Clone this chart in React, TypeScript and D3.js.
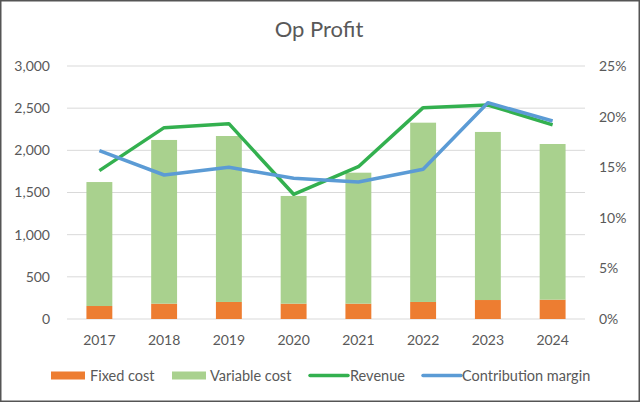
import React from "react";
import * as d3 from "d3";

const years = ["2017", "2018", "2019", "2020", "2021", "2022", "2023", "2024"];
const fixedCost = [154, 182, 202, 182, 182, 202, 225, 229];
const totalCost = [1624, 2123, 2170, 1459, 1735, 2328, 2218, 2075];
const revenue = [1759, 2269, 2316, 1479, 1806, 2506, 2538, 2301];
const contributionMargin = [0.1663, 0.1423, 0.1499, 0.139, 0.1354, 0.1479, 0.2137, 0.1957];
const leftTicks = [0, 500, 1000, 1500, 2000, 2500, 3000];
const rightTicks = [0, 0.05, 0.1, 0.15, 0.2, 0.25];

const W = 640;
const H = 402;
const M = { left: 67, right: 585, top: 66, bottom: 319 };
const FONT = "Lato, 'Open Sans', sans-serif";
const TXT = "#595959";

export default function App() {
  const x = d3.scaleBand<string>().domain(years).range([M.left, M.right]).paddingInner(0.6).paddingOuter(0.3);
  const xc = (y: string) => (x(y) as number) + x.bandwidth() / 2;
  const yL = d3.scaleLinear().domain([0, 3000]).range([M.bottom, M.top]);
  const yR = d3.scaleLinear().domain([0, 0.25]).range([M.bottom, M.top]);
  const revLine = d3.line<number>().x((_, i) => xc(years[i])).y((d) => yL(d));
  const cmLine = d3.line<number>().x((_, i) => xc(years[i])).y((d) => yR(d));
  const fmt = d3.format(",");
  const pct = d3.format(".0%");

  const legend = [
    { type: "rect", color: "#ED7D31", label: "Fixed cost", x: 51, tx: 90 },
    { type: "rect", color: "#A9D18E", label: "Variable cost", x: 172, tx: 210 },
    { type: "line", color: "#33B04F", label: "Revenue", x: 310, tx: 350 },
    { type: "line", color: "#5B9BD5", label: "Contribution margin", x: 423, tx: 462 },
  ];

  return (
    <svg width={W} height={H} style={{ position: "fixed", left: 0, top: 0, background: "#fff" }} fontFamily={FONT}>
      <rect x={0.75} y={0.75} width={W - 1.5} height={H - 1.5} fill="#fff" stroke="#555" strokeWidth={1.5} />
      <text x={319} y={37} textAnchor="middle" fontSize={22} fill={TXT}>Op Profit</text>
      {leftTicks.map((t) => (
        <line key={t} x1={M.left} x2={M.right} y1={yL(t)} y2={yL(t)} stroke="#D9D9D9" strokeWidth={1} />
      ))}
      {leftTicks.map((t) => (
        <text key={"l" + t} x={50} y={yL(t)} dy="0.35em" textAnchor="end" fontSize={14} fill={TXT}>{fmt(t)}</text>
      ))}
      {rightTicks.map((t) => (
        <text key={"r" + t} x={599} y={yR(t)} dy="0.35em" textAnchor="start" fontSize={14} fill={TXT}>{pct(t)}</text>
      ))}
      {years.map((yr, i) => (
        <g key={yr}>
          <rect x={x(yr)} width={x.bandwidth()} y={yL(fixedCost[i])} height={yL(0) - yL(fixedCost[i])} fill="#ED7D31" />
          <rect x={x(yr)} width={x.bandwidth()} y={yL(totalCost[i])} height={yL(fixedCost[i]) - yL(totalCost[i])} fill="#A9D18E" />
          <text x={xc(yr)} y={340} dy="0.35em" textAnchor="middle" fontSize={14} fill={TXT}>{yr}</text>
        </g>
      ))}
      <path d={revLine(revenue) || ""} fill="none" stroke="#33B04F" strokeWidth={3.5} strokeLinejoin="round" />
      <path d={cmLine(contributionMargin) || ""} fill="none" stroke="#5B9BD5" strokeWidth={3.5} strokeLinejoin="round" />
      {legend.map((l) => (
        <g key={l.label}>
          {l.type === "rect" ? (
            <rect x={l.x} y={371.5} width={34} height={8} fill={l.color} />
          ) : (
            <line x1={l.x} x2={l.x + 38} y1={375.5} y2={375.5} stroke={l.color} strokeWidth={3.5} strokeLinecap="round" />
          )}
          <text x={l.tx} y={375.5} dy="0.35em" fontSize={14.5} fill={TXT}>{l.label}</text>
        </g>
      ))}
    </svg>
  );
}
